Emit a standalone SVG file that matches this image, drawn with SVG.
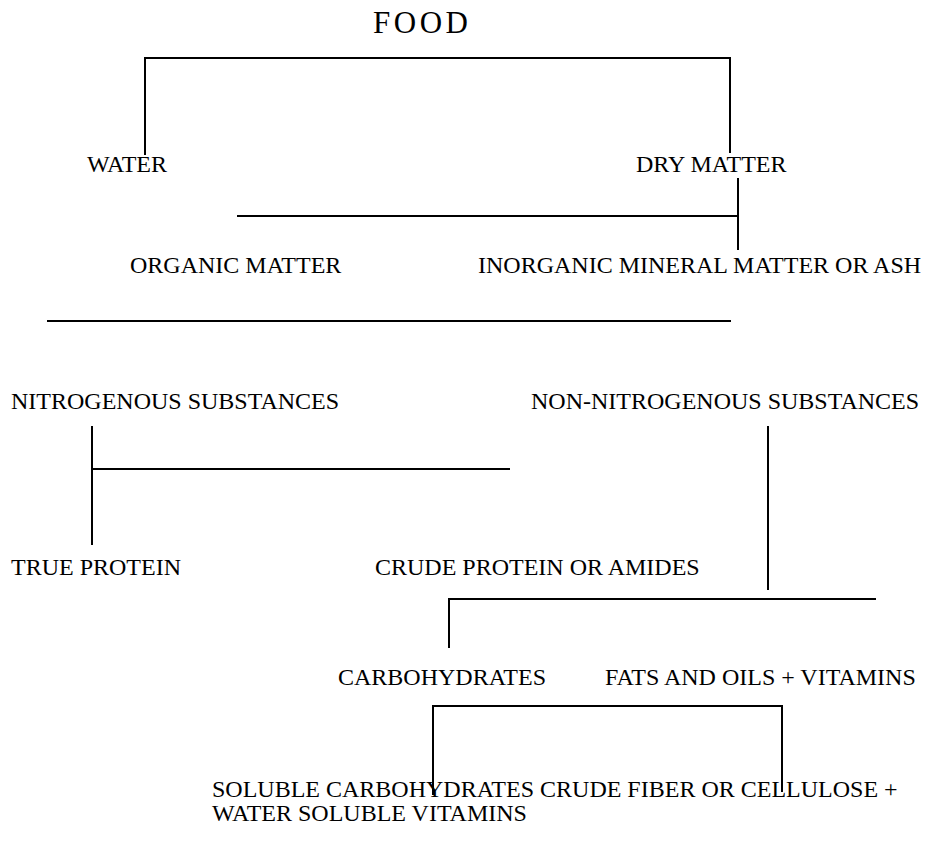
<svg xmlns="http://www.w3.org/2000/svg" width="928" height="850" viewBox="0 0 928 850">
<style>
.t{font-family:"Liberation Serif","Times New Roman",serif;font-size:24px;fill:#000}
.title{font-family:"Liberation Serif","Times New Roman",serif;font-size:31px;letter-spacing:3.5px;fill:#000}
.c{fill:none;stroke:#000;stroke-width:2}
</style>
<rect width="928" height="850" fill="#fff"/>
<g id="connectors">
<path class="c" d="M145 155 V58 H730 V153"/>
<path class="c" d="M738 178 V250 M237 216 H738"/>
<path class="c" d="M47 321 H731"/>
<path class="c" d="M92 426 V545 M92 469 H510"/>
<path class="c" d="M768 426 V590"/>
<path class="c" d="M449 648 V599 H876"/>
<path class="c" d="M433 795 V706 H782 V792"/>
</g>
<g id="food"><text class="title" x="373" y="33">FOOD</text></g>
<g id="water"><text class="t" x="87" y="172">WATER</text></g>
<g id="dry-matter"><text class="t" x="636" y="172">DRY MATTER</text></g>
<g id="organic-matter"><text class="t" x="130" y="273">ORGANIC MATTER</text></g>
<g id="inorganic"><text class="t" x="478" y="273">INORGANIC MINERAL MATTER OR ASH</text></g>
<g id="nitrogenous"><text class="t" x="11" y="409">NITROGENOUS SUBSTANCES</text></g>
<g id="non-nitrogenous"><text class="t" x="531" y="409">NON-NITROGENOUS SUBSTANCES</text></g>
<g id="true-protein"><text class="t" x="11" y="575">TRUE PROTEIN</text></g>
<g id="crude-protein"><text class="t" x="375" y="575">CRUDE PROTEIN OR AMIDES</text></g>
<g id="carbohydrates"><text class="t" x="338" y="685">CARBOHYDRATES</text></g>
<g id="fats"><text class="t" x="605" y="685">FATS AND OILS + VITAMINS</text></g>
<g id="soluble"><text class="t" x="212" y="797">SOLUBLE CARBOHYDRATES CRUDE FIBER OR CELLULOSE +</text><text class="t" x="212" y="821">WATER SOLUBLE VITAMINS</text></g>
</svg>
